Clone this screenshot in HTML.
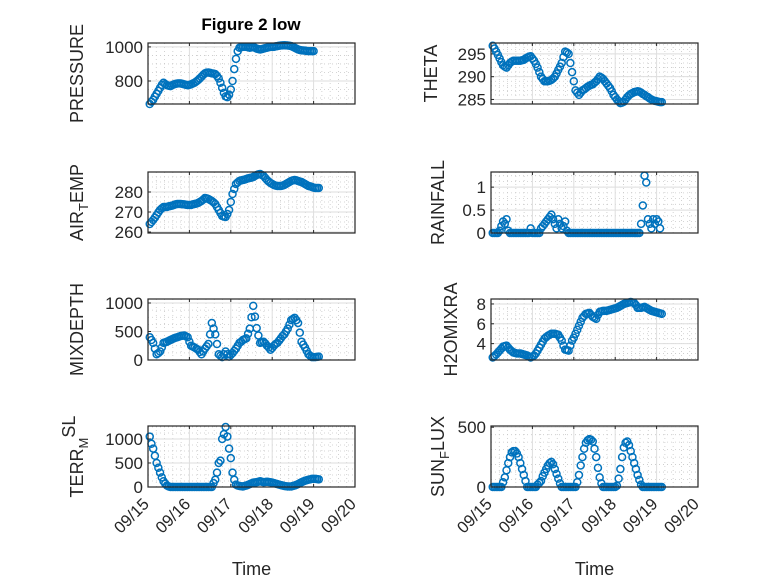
<!DOCTYPE html>
<html><head><meta charset="utf-8"><style>
html,body{margin:0;padding:0;background:#fff;}
svg{display:block;font-family:"Liberation Sans",sans-serif;}
</style></head><body>
<svg id="fig" width="778" height="583" viewBox="0 0 778 583" xmlns="http://www.w3.org/2000/svg">
<rect width="778" height="583" fill="#fff"/>
<text x="251" y="30" text-anchor="middle" font-size="17" font-weight="bold" fill="#000">Figure 2 low</text>
</svg>
<script>
const xTickLabels = ["09/15","09/16","09/17","09/18","09/19","09/20"];
const pressureVals = [665,678,690,708,725,742,760,777,790,782,775,772,770,775,780,783,785,786,785,783,780,777,775,777,780,785,790,797,805,815,825,836,845,849,850,848,845,843,840,830,815,790,760,730,710,705,720,750,800,870,930,975,995,998,1000,1001,1000,998,995,997,1000,995,990,987,985,987,990,993,995,998,1000,1000,1000,1003,1005,1007,1008,1009,1010,1009,1008,1007,1005,1000,995,990,985,982,980,979,978,976,975,975,975,975];
const thetaVals = [296.8,296.2,295.5,294.8,294,293.2,292.5,292.2,292,292.5,293,293.3,293.5,293.5,293.5,293.5,293.5,293.6,293.7,294,294.2,294.4,294.5,294,293.5,292.8,292,291,290,289.5,289,289,289,289.1,289.3,289.6,290,290.7,291.5,292.2,293,294.3,295.5,295.3,295,293,291,289,287,286.5,286,286.5,287,287.2,287.5,287.8,288,288.2,288.3,288.7,289,289.5,290,289.8,289.5,289,288.5,288,287.5,286.8,286,285.5,285,284.6,284.2,284.3,284.5,285,285.5,285.9,286.2,286.4,286.6,286.7,286.8,286.7,286.5,286.2,286,285.7,285.5,285.2,285,284.8,284.7,284.6,284.5,284.4,284.4];
const airTempVals = [264,265,266,267.2,268.5,269.8,271,271.8,272.5,272.5,272.5,272.8,273,273.2,273.5,273.8,274,274,274,273.9,273.8,273.6,273.5,273.5,273.5,273.8,274,274.2,274.5,275,275.5,276.2,277,276.8,276.5,276,275.5,274.8,274,272.5,271,269.5,268,267.7,267.5,269,271,275,279,281.5,284,284.8,285.5,285.8,286,286.2,286.5,286.8,287,287.2,287.5,288,288.5,288.8,289,288.5,288,287,286,285.2,284.5,284,283.5,283.2,283,283,283,283.2,283.5,284,284.5,285,285.5,285.8,286,285.8,285.5,285.2,285,284.5,284,283.5,283,282.8,282.5,282.2,282,282,282];
const rainfallVals = [0,0,0,0,0.05,0.15,0.25,0.2,0.3,0.05,0,0,0,0,0,0,0,0,0,0,0,0,0.1,0,0,0,0,0,0.1,0.15,0.2,0.25,0.3,0.35,0.4,0.3,0.2,0.1,0.3,0.2,0.1,0.15,0.25,0.05,0,0,0,0,0,0,0,0,0,0,0,0,0,0,0,0,0,0,0,0,0,0,0,0,0,0,0,0,0,0,0,0,0,0,0,0,0,0,0,0,0,0,0.2,0.6,1.25,1.1,0.3,0.2,0.1,0.3,0.2,0.3,0.25,0.1];
const mixDepthVals = [400,350,300,200,100,120,150,220,300,310,320,335,350,365,380,390,400,410,420,425,430,415,400,320,250,235,220,200,180,140,100,150,200,240,280,450,650,550,450,280,100,75,50,100,150,100,60,90,120,160,200,250,300,320,350,365,380,460,550,750,950,760,560,430,300,310,320,290,250,220,180,210,250,280,300,340,380,420,450,500,550,620,700,720,740,700,650,480,320,270,220,160,100,75,50,50,50,55,60];
const h2oVals = [2.6,2.75,2.9,3.1,3.3,3.5,3.7,3.75,3.8,3.6,3.4,3.25,3.1,3.05,3.0,3.0,3.0,2.95,2.9,2.85,2.8,2.7,2.6,2.7,2.8,3.0,3.3,3.6,3.9,4.2,4.5,4.65,4.8,4.9,5.0,5.0,5.0,4.95,4.9,4.6,4.3,3.8,3.4,3.35,3.3,3.8,4.3,4.6,5.0,5.4,5.8,6.2,6.6,6.8,7.0,7.05,7.1,6.9,6.7,6.6,6.5,6.9,7.2,7.25,7.3,7.3,7.3,7.35,7.4,7.45,7.5,7.55,7.6,7.7,7.8,7.9,8.0,8.05,8.1,8.15,8.2,8.15,8.1,7.9,7.6,7.6,7.6,7.65,7.7,7.6,7.5,7.4,7.3,7.25,7.2,7.15,7.1,7.05,7.0];
const terrVals = [1050,900,800,650,500,400,300,200,120,70,30,10,0,0,0,0,0,0,0,0,0,0,0,0,0,0,0,0,0,0,0,0,0,0,0,0,0,80,150,300,500,550,1000,1100,1250,1050,800,600,300,150,50,30,20,15,10,20,30,45,60,75,90,95,100,110,120,110,100,105,110,105,100,90,80,70,60,50,40,30,20,15,10,10,10,20,30,45,60,80,100,115,130,140,150,160,170,170,170,165,160];
const sunVals = [0,0,0,0,0,0,40,80,140,200,250,290,300,300,280,250,200,150,100,50,0,0,0,0,0,0,20,35,50,90,120,150,180,200,210,190,150,110,70,30,0,0,0,0,0,0,0,0,0,40,100,180,250,320,370,390,400,395,380,320,250,160,80,30,0,0,0,0,0,0,0,0,10,70,150,250,330,370,380,350,300,250,200,150,100,60,20,0,0,0,0,0,0,0,0,0,0,0,0];
const sampleHoursStart = 1, sampleHoursStep = 1;
const pressureTicks=[800,1000], thetaTicks=[285,290,295], airTicks=[260,270,280], rainTicks=[0,0.5,1];
const mixTicks=[0,500,1000], h2oTicks=[4,6,8], terrTicks=[0,500,1000], sunTicks=[0,500];

const NS="http://www.w3.org/2000/svg";
const svg=document.getElementById('fig');
function mk(tag,attrs,parent){const e=document.createElementNS(NS,tag);for(const k in attrs)e.setAttribute(k,attrs[k]);(parent||svg).appendChild(e);return e;}

const panels=[
 {key:'pressure',vals:pressureVals,ticks:pressureTicks,ylim:[665,1023],minor:50,x:148,y:43,label:'PRESSURE',lx:83},
 {key:'theta',vals:thetaVals,ticks:thetaTicks,ylim:[284,297.4],minor:1,x:491,y:43,label:'THETA',lx:437},
 {key:'air-temp',vals:airTempVals,ticks:airTicks,ylim:[259.5,290],minor:2.5,x:148,y:172,label:'AIR_TEMP',lx:83},
 {key:'rainfall',vals:rainfallVals,ticks:rainTicks,ylim:[0,1.33],minor:0.125,x:491,y:172,label:'RAINFALL',lx:444},
 {key:'mixdepth',vals:mixDepthVals,ticks:mixTicks,ylim:[0,1070],minor:125,x:148,y:299,label:'MIXDEPTH',lx:83},
 {key:'h2omixra',vals:h2oVals,ticks:h2oTicks,ylim:[2.35,8.5],minor:0.5,x:491,y:299,label:'H2OMIXRA',lx:457},
 {key:'terr-msl',vals:terrVals,ticks:terrTicks,ylim:[0,1270],minor:125,x:148,y:426,label:'TERR_MSL',lx:83},
 {key:'sun-flux',vals:sunVals,ticks:sunTicks,ylim:[0,510],minor:62.5,x:491,y:426,label:'SUN_FLUX',lx:444}
];
const W=207,H=61,DAYS=5;

panels.forEach((p,pi)=>{
 const g=mk('g',{});
 
 
 const xs=d=>p.x+d/DAYS*W;
 const ys=v=>p.y+H-(v-p.ylim[0])/(p.ylim[1]-p.ylim[0])*H;
 for(let d=0;d<DAYS;d+=0.2){if(Math.abs(d-Math.round(d))<1e-6)continue;
   mk('line',{x1:xs(d),x2:xs(d),y1:p.y,y2:p.y+H,stroke:'#c8c8c8','stroke-width':0.8,'stroke-dasharray':'1 3'},g);}
 let start=Math.ceil(p.ylim[0]/p.minor)*p.minor;
 for(let v=start;v<=p.ylim[1];v+=p.minor){
   mk('line',{x1:p.x,x2:p.x+W,y1:ys(v),y2:ys(v),stroke:'#c8c8c8','stroke-width':0.8,'stroke-dasharray':'1 3'},g);}
 for(let d=1;d<DAYS;d++) mk('line',{x1:xs(d),x2:xs(d),y1:p.y,y2:p.y+H,stroke:'#dedede','stroke-width':1},g);
 p.ticks.forEach(v=>{const y=ys(v);
   mk('line',{x1:p.x,x2:p.x+W,y1:y,y2:y,stroke:'#dedede','stroke-width':1},g);
   mk('line',{x1:p.x,x2:p.x+3,y1:y,y2:y,stroke:'#262626','stroke-width':1},g);
   const t=mk('text',{x:p.x-5,y:y+6,'text-anchor':'end','font-size':17,fill:'#262626'},g);
   
   
   t.textContent=String(v);
 });
 for(let d=0;d<=DAYS;d++){
   mk('line',{x1:xs(d),x2:xs(d),y1:p.y+H,y2:p.y+H-3,stroke:'#262626','stroke-width':1},g);
   mk('line',{x1:xs(d),x2:xs(d),y1:p.y,y2:p.y+3,stroke:'#262626','stroke-width':1},g);
 }
 const dg=mk('g',{},g);
 
 
 p.vals.forEach((v,i)=>{
   const d=(sampleHoursStart+i*sampleHoursStep)/24;
   const c=mk('circle',{cx:xs(d),cy:ys(v),r:3.5,fill:'none',stroke:'#0072BD','stroke-width':1.5},dg);
   
   
 });
 mk('rect',{x:p.x,y:p.y,width:W,height:H,fill:'none',stroke:'#262626','stroke-width':1.2},g);
 const cy=p.y+H/2;
 const lab=mk('text',{x:p.lx,y:cy,'text-anchor':'middle','font-size':18,fill:'#262626',transform:`rotate(-90 ${p.lx} ${cy})`},g);
 
 
 if(p.label.includes('_')){
   const parts=p.label.split('_');
   const a=mk('tspan',{},lab);a.textContent=parts[0];
   const s=mk('tspan',{dy:5,'font-size':13},lab);s.textContent=parts[1][0];
   if(p.key==='terr-msl'){const r=mk('tspan',{dy:-13},lab);r.textContent=parts[1].slice(1);}
   else{const r=mk('tspan',{dy:-5},lab);r.textContent=parts[1].slice(1);}
 } else lab.textContent=p.label;
 if(pi>=6){
   xTickLabels.forEach((s,d)=>{
     const tx=xs(d)+2,ty=p.y+H+18;
     const t=mk('text',{x:tx,y:ty,'text-anchor':'end','font-size':16.5,fill:'#262626',transform:`rotate(-45 ${tx} ${ty})`},g);
     
     
     t.textContent=s;
   });
   const xt=mk('text',{x:p.x+W/2,y:575,'text-anchor':'middle','font-size':18,fill:'#262626'},g);
   
   
   xt.textContent='Time';
 }
});
</script>
</body></html>
